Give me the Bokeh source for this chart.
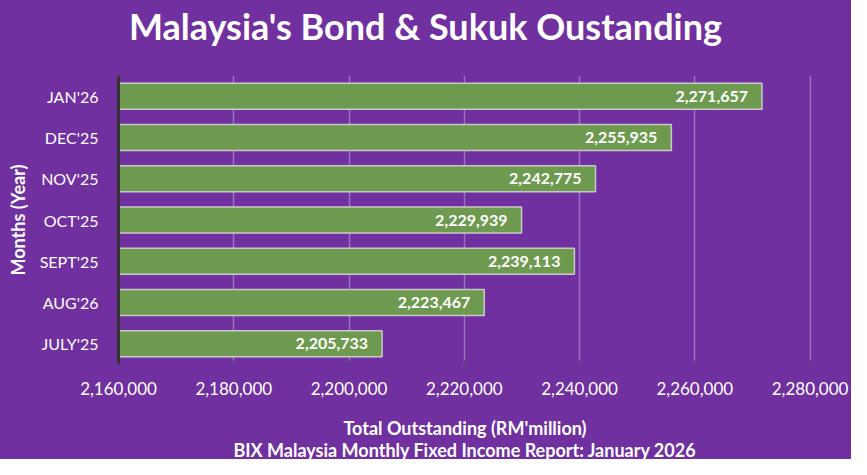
from bokeh.plotting import figure
from bokeh.models import (Range1d, FactorRange, FixedTicker, NumeralTickFormatter,
                          ColumnDataSource, Div)
from bokeh.layouts import column
from bokeh.core.properties import value
from bokeh.embed import file_html
from bokeh.resources import INLINE

months = ["JAN'26", "DEC'25", "NOV'25", "OCT'25", "SEPT'25", "AUG'26", "JULY'25"]
outstanding = [2271657, 2255935, 2242775, 2229939, 2239113, 2223467, 2205733]
x_ticks = [2160000, 2180000, 2200000, 2220000, 2240000, 2260000, 2280000]

title_text = "Malaysia's Bond & Sukuk Oustanding"
x_label = "Total Outstanding (RM'million)"
y_label = "Months (Year)"
subtitle = "BIX Malaysia Monthly Fixed Income Report: January 2026"

BG = "#7030A0"
BAR = "#6E9A50"
FONT = "Lato"
W = 851
TITLE_H, FIG_H, SUB_H = 75, 366, 18
ML, MR, MB = 118, 40, 76
X_PAD = 250  # small padding so the last gridline is not clipped

labels = [f"{v:,}" for v in outstanding]
src = ColumnDataSource(dict(month=months, val=outstanding, lab=labels))

title_div = Div(text=title_text, width=W, height=TITLE_H, margin=(0, 0, 0, 0),
                styles={"background-color": BG, "color": "white",
                        "font-family": FONT, "font-weight": "bold",
                        "font-size": "36px", "line-height": "52px",
                        "text-align": "center", "overflow": "hidden"})

p = figure(width=W, height=FIG_H, output_backend="svg", toolbar_location=None,
           y_range=FactorRange(*reversed(months)),
           x_range=Range1d(x_ticks[0], x_ticks[-1] + X_PAD),
           min_border_left=ML, min_border_right=MR, min_border_top=0,
           min_border_bottom=MB, margin=(0, 0, 0, 0))
p.background_fill_color = BG
p.border_fill_color = BG
p.outline_line_color = None

p.hbar(y="month", right="val", left=0, height=0.63, source=src,
       fill_color=BAR, line_color="#C8C8C8", line_width=1.5)

p.text(x="val", y="month", text="lab", source=src, x_offset=-14,
       text_align="right", text_baseline="middle", text_color="white",
       text_font=value(FONT), text_font_style="bold", text_font_size="16px")

# axes
xa = p.xaxis[0]
xa.ticker = FixedTicker(ticks=x_ticks)
xa.formatter = NumeralTickFormatter(format="0,0")
xa.axis_line_color = None
xa.major_tick_line_color = "#404040"
xa.major_tick_in = 4
xa.major_tick_out = 0
xa.minor_tick_line_color = None
xa.major_label_text_color = "white"
xa.major_label_text_font = FONT
xa.major_label_text_font_size = "17px"
xa.major_label_standoff = 17
xa.axis_label = x_label
xa.axis_label_text_color = "white"
xa.axis_label_text_font = FONT
xa.axis_label_text_font_style = "bold"
xa.axis_label_text_font_size = "18px"
xa.axis_label_standoff = 19

ya = p.yaxis[0]
ya.axis_line_color = "#333333"
ya.axis_line_width = 3
ya.major_tick_line_color = None
ya.minor_tick_line_color = None
ya.major_label_text_color = "white"
ya.major_label_text_font = FONT
ya.major_label_text_font_size = "16px"
ya.major_label_standoff = 14
ya.axis_label = y_label
ya.axis_label_text_color = "white"
ya.axis_label_text_font = FONT
ya.axis_label_text_font_style = "bold"
ya.axis_label_text_font_size = "18px"
ya.axis_label_standoff = 8

p.xgrid.grid_line_color = "#B8A0D0"
p.xgrid.grid_line_alpha = 0.6
p.xgrid.grid_line_width = 1.5
p.ygrid.grid_line_color = None

sub_div = Div(text=subtitle, width=W, height=SUB_H, margin=(0, 0, 0, 0),
              styles={"background-color": BG, "color": "white",
                      "font-family": FONT, "font-weight": "bold",
                      "font-size": "18px", "line-height": "18px",
                      "text-align": "center", "box-sizing": "border-box",
                      "padding-left": f"{ML - MR}px"})

layout = column(title_div, p, sub_div, spacing=0,
                styles={"background-color": BG})

open("out.html", "w").write(file_html(layout, INLINE))
